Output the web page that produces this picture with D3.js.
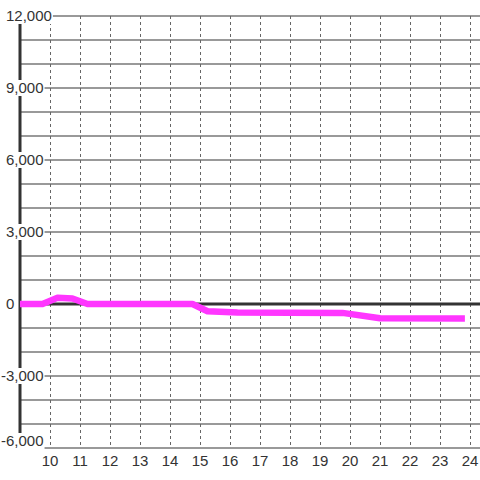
<!DOCTYPE html>
<html lang="en">
  <head>
    <meta charset="UTF-8" />
    <title>chart</title>
    <style>
      body { margin: 0; background: #fff; }
      svg { display: block; }
    </style>
  </head>
  <body>
    <svg></svg>
    <script src="https://d3js.org/d3.v7.min.js"></script>
    <script>
      // data: hour of day vs value
      const hours = [9.0, 9.75, 10.25, 10.75, 11.25, 14.75, 15.25, 16.25, 19.75, 21.0, 23.83];
      const values = [0, 0, 260, 230, 0, 0, -300, -350, -370, -590, -600];
      const xTicks = [10, 11, 12, 13, 14, 15, 16, 17, 18, 19, 20, 21, 22, 23, 24];
      const yLabelTicks = [12000, 9000, 6000, 3000, 0, -3000, -6000];
      const yGridTicks = d3.range(-6000, 12001, 1000);

      const width = 480;
      const height = 480;
      const svg = d3.select("svg").attr("width", width).attr("height", height);

      const x = d3.scaleLinear().domain([9, 24]).range([20, 470]);
      const y = d3.scaleLinear().domain([-6000, 12000]).range([448, 16]);

      // horizontal grid
      svg.append("g")
        .selectAll("line")
        .data(yGridTicks)
        .join("line")
        .attr("x1", 20)
        .attr("x2", width)
        .attr("y1", d => y(d))
        .attr("y2", d => y(d))
        .attr("stroke", "#777")
        .attr("stroke-width", 1.3);

      // vertical dashed grid
      svg.append("g")
        .selectAll("line")
        .data(xTicks)
        .join("line")
        .attr("x1", d => Math.round(x(d)) + 0.5)
        .attr("x2", d => Math.round(x(d)) + 0.5)
        .attr("y1", 16)
        .attr("y2", 448)
        .attr("stroke", "#666")
        .attr("stroke-width", 1)
        .attr("stroke-dasharray", "3,3");

      // zero line
      svg.append("line")
        .attr("x1", 20).attr("x2", width)
        .attr("y1", y(0)).attr("y2", y(0))
        .attr("stroke", "#333")
        .attr("stroke-width", 3);

      // y axis line
      svg.append("line")
        .attr("x1", 20).attr("x2", 20)
        .attr("y1", 16).attr("y2", 448)
        .attr("stroke", "#333")
        .attr("stroke-width", 3);

      // series line
      const pts = hours.map((h, i) => [h, values[i]]);
      svg.append("path")
        .datum(pts)
        .attr("fill", "none")
        .attr("stroke", "#ff36ff")
        .attr("stroke-width", 6.5)
        .attr("stroke-linejoin", "round")
        .attr("d", d3.line().x(d => x(d[0])).y(d => y(d[1])));

      // y labels with white boxes
      const fmt = d3.format(",");
      const yl = svg.append("g")
        .attr("font-family", "'Liberation Sans', Arial, sans-serif")
        .attr("font-size", 15)
        .attr("fill", "#333");
      yLabelTicks.forEach(v => {
        const ty = Math.min(y(v), 441);
        const tx = v < 0 ? 1 : 6;
        const t = yl.append("text")
          .attr("x", tx)
          .attr("y", ty)
          .attr("dy", "0.36em")
          .text(fmt(v).replace("−", "-"));
        const bb = t.node().getBBox();
        yl.insert("rect", "text")
          .attr("x", 0)
          .attr("y", ty - 8)
          .attr("width", bb.x + bb.width + 1)
          .attr("height", 16)
          .attr("fill", "#fff");
      });

      // x labels
      svg.append("g")
        .attr("font-family", "'Liberation Sans', Arial, sans-serif")
        .attr("font-size", 15)
        .attr("fill", "#333")
        .attr("text-anchor", "middle")
        .selectAll("text")
        .data(xTicks)
        .join("text")
        .attr("x", d => x(d))
        .attr("y", 461)
        .attr("dy", "0.36em")
        .text(d => d);
    </script>
  </body>
</html>
